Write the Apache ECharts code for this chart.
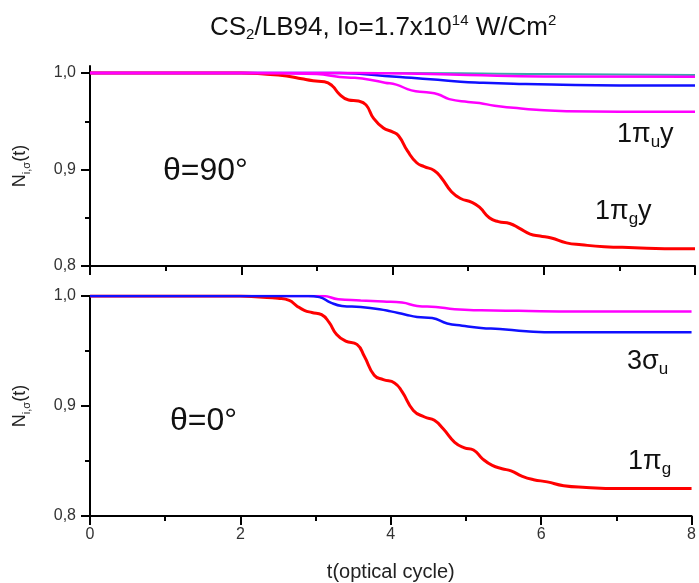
<!DOCTYPE html>
<html><head><meta charset="utf-8">
<script src="https://cdn.jsdelivr.net/npm/echarts@6/dist/echarts.min.js"></script>
<style>html,body{margin:0;padding:0;background:#fff}#c{width:699px;height:583px}</style>
</head><body><div id="c"></div>
<script>
// ---- axis ticks ----
const xMajor = [0, 2, 4, 6, 8];
const xMinor = [1, 3, 5, 7];
const yMajor = [0.8, 0.9, 1.0];
const yMinor = [0.85, 0.95];

// ---- top panel (theta = 90 deg) ----
const tTopRed = [0, 1, 2, 2.3, 2.6, 2.8, 2.95, 3.1, 3.2, 3.3, 3.42, 3.55, 3.65, 3.75, 3.88, 4.0, 4.08, 4.2, 4.32, 4.42, 4.55, 4.65, 4.78, 4.9, 5.05, 5.15, 5.28, 5.4, 5.55, 5.68, 5.82, 5.95, 6.1, 6.3, 6.5, 6.8, 7.2, 7.6, 8];
const vTopRed = [1, 1, 1, 0.999, 0.997, 0.994, 0.992, 0.991, 0.987, 0.978, 0.972, 0.971, 0.967, 0.953, 0.943, 0.939, 0.935, 0.919, 0.907, 0.903, 0.899, 0.891, 0.877, 0.870, 0.866, 0.861, 0.850, 0.846, 0.844, 0.839, 0.833, 0.831, 0.829, 0.824, 0.822, 0.820, 0.819, 0.818, 0.818];
const tTopMag = [0, 2, 2.6, 3.0, 3.3, 3.5, 3.7, 3.9, 4.05, 4.25, 4.45, 4.6, 4.75, 5.0, 5.15, 5.35, 5.6, 5.9, 6.3, 7, 8];
const vTopMag = [1, 1, 0.9997, 0.999, 0.996, 0.995, 0.993, 0.990, 0.988, 0.982, 0.980, 0.978, 0.973, 0.970, 0.969, 0.966, 0.964, 0.962, 0.9605, 0.960, 0.960];
const tTopBlue = [0, 3.3, 3.6, 3.9, 4.1, 4.4, 4.6, 4.9, 5.2, 5.6, 6.1, 7, 8];
const vTopBlue = [1, 1, 0.999, 0.997, 0.996, 0.994, 0.993, 0.991, 0.990, 0.989, 0.988, 0.987, 0.987];
const tTopMag2 = [0, 3.5, 4.5, 5, 6, 8];
const vTopMag2 = [1, 1, 0.999, 0.998, 0.9965, 0.9962];
const tTopTeal = [0, 4, 6, 8];
const vTopTeal = [1, 1, 0.999, 0.998];

// ---- bottom panel (theta = 0 deg) ----
const tBotRed = [0, 2, 2.25, 2.5, 2.65, 2.75, 2.85, 2.95, 3.08, 3.18, 3.28, 3.4, 3.55, 3.65, 3.78, 3.9, 4.05, 4.15, 4.3, 4.45, 4.58, 4.7, 4.85, 4.98, 5.1, 5.22, 5.35, 5.48, 5.6, 5.75, 5.9, 6.08, 6.3, 6.6, 7, 8];
const vBotRed = [1, 1, 0.999, 0.998, 0.996, 0.991, 0.987, 0.985, 0.983, 0.976, 0.965, 0.959, 0.956, 0.945, 0.928, 0.924, 0.921, 0.913, 0.896, 0.890, 0.887, 0.879, 0.867, 0.862, 0.860, 0.852, 0.846, 0.843, 0.841, 0.836, 0.833, 0.831, 0.8275, 0.826, 0.825, 0.825];
const tBotBlue = [0, 2.9, 3.05, 3.2, 3.35, 3.6, 3.85, 4.0, 4.2, 4.35, 4.55, 4.75, 4.95, 5.2, 5.45, 5.8, 6.2, 7, 8];
const vBotBlue = [1, 1, 0.999, 0.994, 0.991, 0.990, 0.988, 0.986, 0.983, 0.981, 0.980, 0.975, 0.973, 0.971, 0.970, 0.968, 0.967, 0.967, 0.967];
const tBotMag = [0, 3.1, 3.3, 3.6, 3.9, 4.15, 4.35, 4.6, 4.85, 5.2, 5.7, 6.5, 8];
const vBotMag = [1, 1, 0.997, 0.996, 0.995, 0.994, 0.991, 0.990, 0.988, 0.987, 0.9865, 0.986, 0.986];

const pair = (t, v) => t.map((x, i) => [x, v[i]]);
const FONT = 'Liberation Sans, Arial, sans-serif';
const comma = v => v.toFixed(1).replace('.', ',');

function xAx(gi, showLabels, minor) {
  return {
    gridIndex: gi, type: 'value', min: 0, max: 8, position: 'bottom', offset: 0,
    axisLine: { show: !minor, onZero: false, lineStyle: { color: '#000', width: 2 } },
    axisTick: { show: true, customValues: minor ? xMinor : xMajor, length: minor ? 5 : 9, inside: false, lineStyle: { color: '#000', width: 2 } },
    axisLabel: { show: showLabels && !minor, customValues: xMajor, margin: 11, color: '#333', fontSize: 16, fontFamily: FONT, formatter: v => String(v) },
    splitLine: { show: false },
    name: (showLabels && !minor) ? 't(optical cycle)' : '',
    nameLocation: 'middle', nameGap: 46,
    nameTextStyle: { color: '#222', fontSize: 20, fontFamily: FONT }
  };
}
function yAx(gi, max, minor) {
  return {
    gridIndex: gi, type: 'value', min: 0.8, max: max, position: 'left', offset: 0,
    axisLine: { show: !minor, onZero: false, lineStyle: { color: '#000', width: 2 } },
    axisTick: { show: true, customValues: minor ? yMinor : yMajor, length: minor ? 5 : 9, lineStyle: { color: '#000', width: 2 } },
    axisLabel: { show: !minor, customValues: yMajor, margin: 14, color: '#333', fontSize: 16, fontFamily: FONT, formatter: comma },
    splitLine: { show: false },
    name: minor ? '' : '{a|N}{s|i,σ}{a|(t)}',
    nameLocation: 'middle', nameGap: 58, nameRotate: 90,
    nameTextStyle: {
      color: '#222', fontFamily: FONT, fontSize: 18,
      rich: {
        a: { fontSize: 18, fontFamily: FONT, color: '#222' },
        s: { fontSize: 11, fontFamily: FONT, color: '#222', padding: [12, 0, 0, 0] }
      }
    }
  };
}
function line(name, data, color, xi, yi, w) {
  return {
    name, type: 'line', data, xAxisIndex: xi, yAxisIndex: yi,
    showSymbol: false, symbol: 'none', smooth: 0.5,
    lineStyle: { color, width: w || 2.5 }, itemStyle: { color },
    silent: true, animation: false
  };
}
function label(x, y, text, big, small, pad) {
  return {
    type: 'text', x: x, y: y,
    style: {
      text: text, fontFamily: FONT, fill: '#111',
      rich: {
        a: { fontSize: big, fontFamily: FONT, fill: '#111', color: '#111' },
        s: { fontSize: small, fontFamily: FONT, fill: '#111', color: '#111', padding: [pad, 0, 0, 0] },
        p: { fontSize: small, fontFamily: FONT, fill: '#111', color: '#111', padding: [0, 0, pad, 0] }
      }
    }
  };
}

const chart = echarts.init(document.getElementById('c'), null, { renderer: 'canvas' });
chart.setOption({
  animation: false,
  backgroundColor: '#fff',
  grid: [
    { left: 90, width: 605, top: 66, height: 200 },
    { left: 90, width: 605, top: 296, height: 220 }
  ],
  xAxis: [xAx(0, false, false), xAx(0, false, true), xAx(1, true, false), xAx(1, true, true)],
  yAxis: [yAx(0, 1.0073, false), yAx(0, 1.0073, true), yAx(1, 1.0, false), yAx(1, 1.0, true)],
  series: [
    line('top teal', pair(tTopTeal, vTopTeal), '#3aa8a8', 0, 0, 2),
    line('top blue', pair(tTopBlue, vTopBlue), '#1010ff', 0, 0),
    line('1πg y', pair(tTopRed, vTopRed), '#ff0000', 0, 0, 3),
    line('top magenta 2', pair(tTopMag2, vTopMag2), '#ff00ff', 0, 0),
    line('1πu y', pair(tTopMag, vTopMag), '#ff00ff', 0, 0),
    line('bottom magenta', pair(tBotMag, vBotMag), '#ff00ff', 2, 2),
    line('1πg', pair(tBotRed, vBotRed), '#ff0000', 2, 2, 3),
    line('3σu', pair(tBotBlue, vBotBlue), '#1010ff', 2, 2)
  ],
  graphic: [
    label(210, 13, '{a|CS}{s|2}{a|/LB94, Io=1.7x10}{p|14}{a| W/Cm}{p|2}', 26, 15, 14),
    label(163, 155, '{a|θ=90°}', 32, 14, 0),
    label(617, 118, '{a|1π}{s|u}{a|y}', 27, 17, 16),
    label(595, 195, '{a|1π}{s|g}{a|y}', 27, 17, 16),
    label(170, 405, '{a|θ=0°}', 32, 14, 0),
    label(627, 345, '{a|3σ}{s|u}', 27, 17, 16),
    label(628, 445, '{a|1π}{s|g}', 27, 17, 16)
  ]
});
</script></body></html>
